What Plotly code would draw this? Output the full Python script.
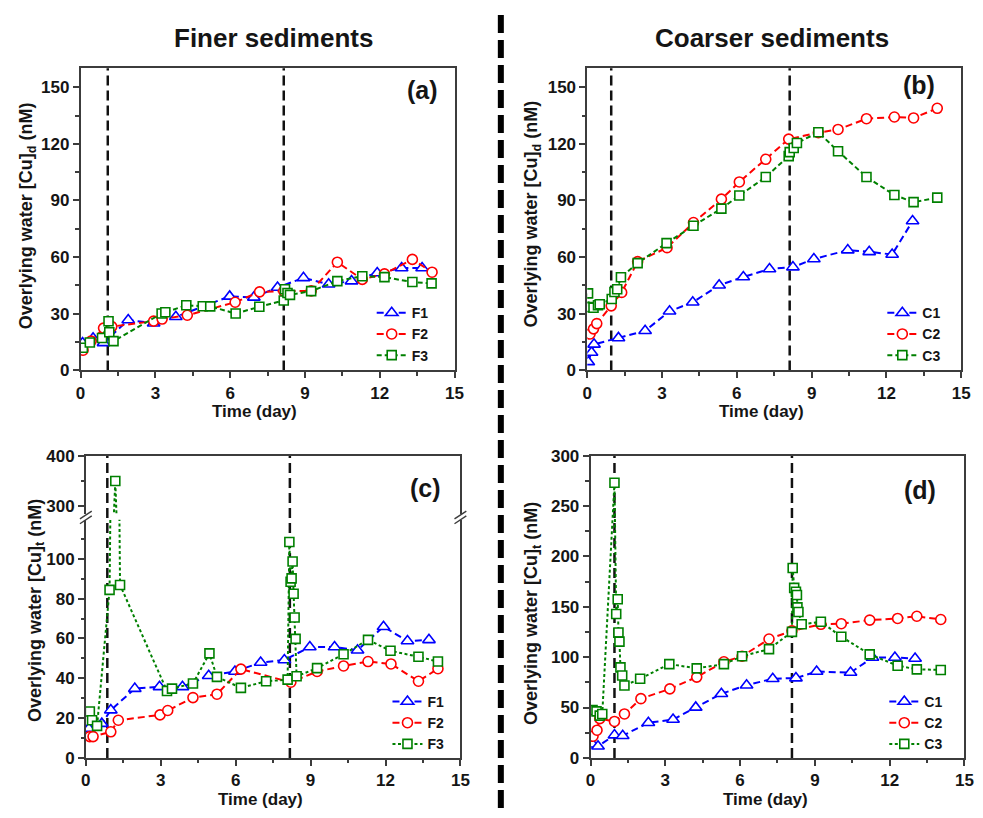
import plotly.graph_objects as go

W, H = 983, 818
FONT = "Liberation Sans, Arial, Helvetica, sans-serif"

# ---------------- data ----------------
# Panel (a): finer sediments, dissolved Cu
a_F1_x = [0.08, 0.5, 0.92, 1.91, 2.93, 3.82, 5.98, 6.95, 7.9, 8.94, 9.95, 10.87, 11.9, 12.88, 13.7]
a_F1_y = [14.5, 17.0, 14.6, 26.7, 25.0, 28.4, 39.2, 38.7, 43.9, 49.0, 45.6, 47.3, 51.6, 54.2, 54.2]
a_F2_x = [0.1, 0.42, 0.92, 1.25, 2.93, 3.27, 4.28, 6.2, 7.18, 8.15, 9.25, 10.3, 11.3, 12.19, 13.31, 14.1]
a_F2_y = [10.7, 15.5, 22.4, 23.2, 26.1, 27.2, 29.2, 36.1, 41.6, 42.0, 42.1, 57.3, 48.2, 51.1, 58.8, 52.0]
a_F3_x = [0.09, 0.37, 0.86, 1.12, 1.15, 1.32, 3.25, 3.4, 4.24, 4.9, 5.2, 6.22, 7.17, 8.15, 8.2, 8.3, 8.4,
          9.25, 10.3, 11.3, 12.19, 13.31, 14.08]
a_F3_y = [12.0, 14.8, 17.2, 26.0, 20.2, 15.5, 30.1, 30.8, 34.5, 34.0, 33.9, 30.1, 33.7, 37.0, 43.0, 41.0, 40.0,
          42.0, 47.3, 49.9, 49.4, 46.8, 46.1]

# Panel (b): coarser sediments, dissolved Cu
b_C1_x = [0.04, 0.17, 0.27, 1.25, 2.32, 3.3, 4.23, 5.29, 6.26, 7.31, 8.25, 9.09, 10.45, 11.31, 12.23, 13.05]
b_C1_y = [4.5, 9.5, 13.8, 17.2, 21.0, 31.3, 36.1, 45.1, 49.5, 53.7, 54.7, 59.0, 63.7, 62.8, 61.4, 79.1]
b_C2_x = [0.11, 0.25, 0.38, 0.96, 1.38, 2.02, 3.2, 4.26, 5.38, 6.1, 7.16, 8.08, 9.27, 10.06, 11.2, 12.32, 13.09, 14.04]
b_C2_y = [19.3, 22.0, 24.8, 34.2, 41.3, 57.6, 65.0, 78.3, 90.7, 99.8, 111.8, 122.5, 125.9, 127.6, 133.3, 134.2, 133.7, 138.8]
b_C3_x = [0.03, 0.06, 0.25, 0.43, 0.5, 0.98, 1.09, 1.2, 1.35, 2.02, 3.18, 4.26, 5.38, 6.1, 7.16, 8.08, 8.12,
          8.28, 8.41, 9.27, 10.06, 11.2, 12.32, 13.09, 14.04]
b_C3_y = [40.8, 33.5, 33.2, 34.5, 35.0, 37.8, 41.5, 43.0, 49.3, 56.8, 67.4, 76.6, 85.7, 92.6, 102.4, 113.5, 115.6,
          117.8, 120.4, 126.1, 116.1, 102.4, 92.9, 89.1, 91.5]

# Panel (c): finer sediments, total Cu
c_F1_x = [0.12, 0.64, 1.0, 1.96, 2.95, 3.87, 4.92, 5.97, 7.0, 7.95, 8.97, 9.96, 10.88, 11.92, 12.88, 13.74]
c_F1_y = [14.8, 17.2, 24.0, 34.8, 35.7, 35.7, 41.3, 43.4, 47.9, 49.2, 55.7, 55.7, 54.1, 65.9, 58.7, 59.3]
c_F2_x = [0.16, 0.29, 1.0, 1.3, 2.97, 3.28, 4.29, 5.25, 6.21, 8.21, 9.26, 10.32, 11.3, 12.22, 13.32, 14.1]
c_F2_y = [10.7, 10.7, 13.1, 18.9, 21.6, 23.8, 30.3, 32.0, 44.6, 38.0, 43.4, 46.2, 48.4, 47.2, 38.5, 44.8]
c_F3_x = [0.16, 0.25, 0.45, 0.95, 1.18, 1.37, 3.25, 3.45, 4.29, 4.95, 5.25, 6.21, 7.22, 8.08, 8.15, 8.2, 8.24,
          8.28, 8.32, 8.36, 8.4, 8.44, 9.26, 10.32, 11.3, 12.2, 13.32, 14.1]
c_F3_y = [23.3, 18.9, 16.1, 84.4, 350.0, 86.9, 33.6, 34.8, 37.4, 52.5, 40.7, 35.2, 38.5, 39.3, 108.5, 88.5, 90.2,
          98.7, 82.5, 70.5, 59.8, 41.0, 45.1, 52.1, 59.3, 53.8, 50.8, 48.4]

# Panel (d): coarser sediments, total Cu
d_C1_x = [0.08, 0.3, 0.96, 1.29, 2.32, 3.31, 4.22, 5.25, 6.26, 7.31, 8.24, 9.07, 10.43, 11.31, 12.21, 13.02]
d_C1_y = [13.6, 11.5, 22.6, 22.0, 34.9, 38.1, 50.1, 63.7, 72.1, 78.6, 79.2, 85.7, 84.7, 99.6, 99.6, 98.6]
d_C2_x = [0.1, 0.26, 0.37, 0.96, 1.36, 2.02, 3.18, 4.26, 5.35, 6.08, 7.16, 8.08, 9.24, 10.06, 11.2, 12.32, 13.09, 14.05]
d_C2_y = [21.5, 27.5, 39.0, 36.2, 43.6, 58.8, 68.5, 80.2, 95.4, 100.9, 118.0, 126.1, 132.6, 133.2, 136.8, 138.4, 140.6, 137.4]
d_C3_x = [0.08, 0.24, 0.37, 0.47, 0.96, 1.03, 1.09, 1.12, 1.16, 1.2, 1.27, 1.36, 1.99, 3.16, 4.26, 5.35, 6.08,
          7.16, 8.08, 8.11, 8.17, 8.24, 8.28, 8.3, 8.34, 8.47, 9.24, 10.06, 11.2, 12.32, 13.09, 14.05]
d_C3_y = [47.5, 46.2, 42.0, 43.6, 273.2, 142.9, 157.5, 124.5, 115.4, 89.9, 81.8, 71.8, 78.6, 93.1, 88.9, 93.1, 100.9,
          108.0, 125.1, 188.5, 168.8, 164.9, 161.7, 149.4, 144.8, 132.6, 135.1, 120.3, 102.8, 91.5, 87.9, 87.3]

# sediment addition days (vertical dashed markers)
a_events = [1.09, 8.15]
b_events = [0.96, 8.12]
c_events = [0.86, 8.17]
d_events = [0.96, 8.08]

BLUE, RED, GREEN = "#0000FF", "#FF0000", "#008000"

# ---------------- layout helpers (pixels -> paper) ----------------
def px(p):
    return p / W

def py(p):
    return 1 - p / H

fig = go.Figure()

def series(x, y, name, color, symbol, dash, xa, ya, leg, show=True, size=10):
    fig.add_trace(go.Scatter(
        x=x, y=y, name=name, mode="lines+markers",
        line=dict(color=color, width=2, dash=dash),
        marker=dict(symbol=symbol, size=size, color="white", line=dict(color=color, width=1.6)),
        xaxis=xa, yaxis=ya, legend=leg, showlegend=show))

DB = "7px,4px"
DG = "5px,3px"
DGt = "3px,2.5px"

series(a_F1_x, a_F1_y, "F1", BLUE, "triangle-up", DB, "x", "y", "legend", size=11)
series(a_F2_x, a_F2_y, "F2", RED, "circle", DB, "x", "y", "legend", size=10)
series(a_F3_x, a_F3_y, "F3", GREEN, "square", DG, "x", "y", "legend", size=9)

series(b_C1_x, b_C1_y, "C1", BLUE, "triangle-up", DB, "x2", "y2", "legend2", size=11)
series(b_C2_x, b_C2_y, "C2", RED, "circle", DB, "x2", "y2", "legend2", size=10)
series(b_C3_x, b_C3_y, "C3", GREEN, "square", DG, "x2", "y2", "legend2", size=9)

series(c_F1_x, c_F1_y, "F1", BLUE, "triangle-up", DB, "x3", "y3", "legend3", size=11)
series(c_F2_x, c_F2_y, "F2", RED, "circle", DB, "x3", "y3", "legend3", size=10)
series(c_F3_x, c_F3_y, "F3", GREEN, "square", DGt, "x3", "y3", "legend3", size=9)
series(c_F3_x, c_F3_y, "F3", GREEN, "square", DGt, "x5", "y5", "legend3", show=False, size=9)

series(d_C1_x, d_C1_y, "C1", BLUE, "triangle-up", DB, "x4", "y4", "legend4", size=11)
series(d_C2_x, d_C2_y, "C2", RED, "circle", DB, "x4", "y4", "legend4", size=10)
series(d_C3_x, d_C3_y, "C3", GREEN, "square", DGt, "x4", "y4", "legend4", size=9)

AXC = "#3c3c3c"
TICKFONT = dict(family=FONT, size=17, color="#151515", weight="bold")

def xaxis(dom, anchor, mirror=True):
    return dict(domain=[px(dom[0]), px(dom[1])], anchor=anchor, range=[0, 15], dtick=3, tick0=0,
                showline=True, linecolor=AXC, linewidth=1.6, mirror=mirror,
                ticks="outside", ticklen=6, tickwidth=1.5, tickcolor=AXC,
                showgrid=False, zeroline=False, tickfont=TICKFONT,
                minor=dict(ticks="outside", ticklen=3.5, tickwidth=1.5, tickcolor=AXC, dtick=1.5, tick0=0, showgrid=False))

def yaxis(dom, anchor, rng, dtick, mdtick):
    return dict(domain=[py(dom[0]), py(dom[1])], anchor=anchor, range=rng, dtick=dtick, tick0=0,
                showline=True, linecolor=AXC, linewidth=1.6, mirror=True,
                ticks="outside", ticklen=6, tickwidth=1.5, tickcolor=AXC,
                showgrid=False, zeroline=False, tickfont=TICKFONT,
                minor=dict(ticks="outside", ticklen=3.5, tickwidth=1.5, tickcolor=AXC, dtick=mdtick, tick0=0, showgrid=False))

A_X = (76.7, 456.0)
B_X = (590.7, 970.0)
C_X = (82.0, 462.0)
D_X = (594.0, 973.3)
AB_Y = (370.0, 60.7)
C_LO = (766.7, 523.0)
C_UP = (517.0, 457.3)
D_Y = (766.7, 457.3)

y5 = yaxis(C_UP, "x5", [285, 400], 100, 50)
y5.update(tickmode="array", tickvals=[300, 400])
y5["minor"].update(tickmode="array", tickvals=[350])
x5 = xaxis(C_X, "y5", mirror=False)
x5.update(side="top", ticks="", showticklabels=False)
x5["minor"] = dict(ticks="")

fig.update_layout(
    width=W, height=H, margin=dict(l=0, r=0, t=0, b=0),
    paper_bgcolor="white", plot_bgcolor="white",
    font=dict(family=FONT, color="#151515"),
    xaxis=xaxis(A_X, "y"), yaxis=yaxis(AB_Y, "x", [0, 160], 30, 15),
    xaxis2=xaxis(B_X, "y2"), yaxis2=yaxis(AB_Y, "x2", [0, 160], 30, 15),
    xaxis3=xaxis(C_X, "y3", mirror=False), yaxis3=yaxis(C_LO, "x3", [0, 119.6], 20, 10),
    xaxis4=xaxis(D_X, "y4"), yaxis4=yaxis(D_Y, "x4", [0, 300], 50, 25),
    xaxis5=x5, yaxis5=y5,
)

LEGFONT = dict(family=FONT, size=14, color="#151515", weight="bold")

def legend(xp, yp):
    return dict(x=px(xp), y=py(yp), xanchor="left", yanchor="top", bgcolor="rgba(0,0,0,0)",
                borderwidth=0, font=LEGFONT, tracegroupgap=0, itemwidth=30)

fig.update_layout(legend=legend(372, 295), legend2=legend(890, 295),
                  legend3=legend(388, 693), legend4=legend(892, 693))

shapes = []
def vlines(events, xref, y0, y1):
    for e in events:
        shapes.append(dict(type="line", xref=xref, yref="paper", x0=e, x1=e, y0=py(y0), y1=py(y1),
                           layer="below", line=dict(color="#111111", width=2.5, dash="10px,5px")))

vlines(a_events, "x", AB_Y[0], AB_Y[1])
vlines(b_events, "x2", AB_Y[0], AB_Y[1])
vlines(c_events, "x3", C_LO[0], C_UP[1])
vlines(d_events, "x4", D_Y[0], D_Y[1])

# central separator
shapes.append(dict(type="line", xref="paper", yref="paper", x0=px(503), x1=px(503), y0=0, y1=1,
                   line=dict(color="black", width=6, dash="18px,7px")))

# axis break marks for panel (c)
for xb in (C_X[0], C_X[1]):
    for dy in (0, -5):
        shapes.append(dict(type="line", xref="paper", yref="paper",
                           x0=px(xb - 6), x1=px(xb + 6), y0=py(527 + dy), y1=py(519 + dy),
                           line=dict(color=AXC, width=1.4)))

fig.update_layout(shapes=shapes)

ann = []
def text(t, xp, yp, size, angle=0):
    ann.append(dict(text=t, x=px(xp), y=py(yp), xref="paper", yref="paper", showarrow=False,
                    xanchor="center", yanchor="middle", textangle=angle,
                    font=dict(family=FONT, size=size, color="#151515", weight="bold")))

text("Finer sediments", 272, 30, 26)
text("Coarser sediments", 778, 30, 26)
text("(a)", 424, 83, 25)
text("(b)", 927, 78, 25)
text("(c)", 427, 490, 25)
text("(d)", 928, 492, 25)
text("Time (day)", 253, 412, 17)
text("Time (day)", 767, 412, 17)
text("Time (day)", 259, 809, 17)
text("Time (day)", 771, 809, 17)
text("Overlying water [Cu]<sub>d</sub> (nM)", 22.5, 212, 18, -90)
text("Overlying water [Cu]<sub>d</sub> (nM)", 535, 210, 18, -90)
text("Overlying water [Cu]<sub>t</sub> (nM)", 31.7, 616, 18, -90)
text("Overlying water [Cu]<sub>t</sub> (nM)", 535, 619, 18, -90)
fig.update_layout(annotations=ann)

fig.write_html("out.html")
